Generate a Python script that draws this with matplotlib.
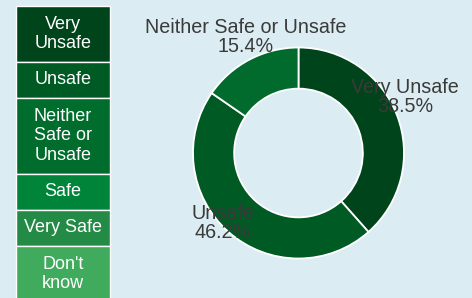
import matplotlib.pyplot as plt
import numpy as np
from matplotlib.patches import Rectangle

plt.rcParams["font.family"] = ["Liberation Sans", "DejaVu Sans"]

# data
slice_labels = ["Very Unsafe", "Unsafe", "Neither Safe or Unsafe"]
slice_values = [38.5, 46.2, 15.4]
slice_colors = ["#00441b", "#005a23", "#006b2c"]

legend_labels = ["Very\nUnsafe", "Unsafe", "Neither\nSafe or\nUnsafe", "Safe", "Very Safe", "Don't\nknow"]
legend_colors = ["#00441b", "#005a23", "#006d2c", "#00843a", "#238b45", "#41ab5d"]

# label positions in pie radius units (relative to centre)
label_pos = [(1.01, 0.53), (-0.72, -0.66), (-0.50, 1.10)]

bg = "#dbedf3"
W, H = 472, 298
fig = plt.figure(figsize=(W / 100, H / 100), dpi=100, facecolor=bg)

# donut
cx, cy, R = 298.5, 153, 105.5
ax = fig.add_axes([0, 0, 1, 1])
ax.set_facecolor(bg)
ax.pie(slice_values, colors=slice_colors, startangle=90, counterclock=False,
       radius=1, wedgeprops=dict(width=0.39, edgecolor="white", linewidth=1.3))
ax.set_xlim(-cx / R, (W - cx) / R)
ax.set_ylim(-(H - cy) / R, cy / R)
ax.set_aspect("auto")
ax.axis("off")

for lab, val, (lx, ly) in zip(slice_labels, slice_values, label_pos):
    ax.text(lx, ly, f"{lab}\n{val}%", ha="center", va="center", fontsize=14.2,
            color="#3a3a3a", linespacing=1.0)

# legend boxes
lax = fig.add_axes([0, 0, 1, 1])
lax.set_xlim(0, W)
lax.set_ylim(H, 0)
lax.axis("off")
y = 6
for lab, col in zip(legend_labels, legend_colors):
    n = lab.count("\n") + 1
    h = 16 + 20 * n
    lax.add_patch(Rectangle((16, y), 94, h, facecolor=col, edgecolor="white", linewidth=1))
    lax.text(63, y + h / 2, lab, ha="center", va="center", fontsize=13,
             color="white", linespacing=1.17)
    y += h

fig.savefig("out.png", dpi=100, facecolor=bg)
